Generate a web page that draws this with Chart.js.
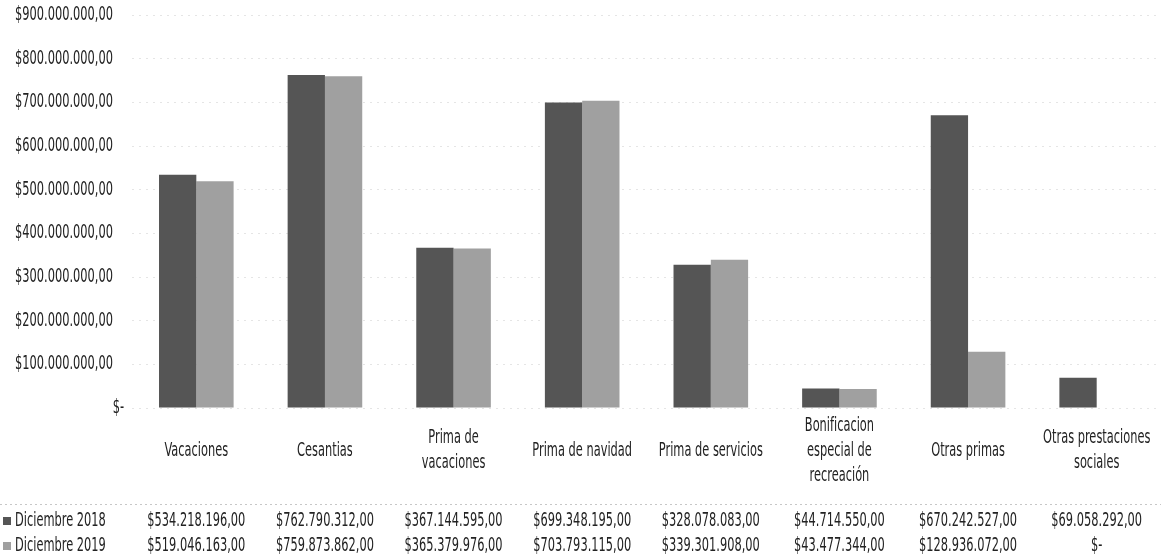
<!DOCTYPE html>
<html lang="es">
<head>
    <meta charset="UTF-8">
    <title>Prestaciones sociales 2018 - 2019</title>
    <script src="https://cdn.jsdelivr.net/npm/chart.js"></script>
    <style>
        html, body {
            margin: 0;
            padding: 0;
            background: #ffffff;
        }
        .chart-box {
            position: relative;
            width: 1161px;
            height: 558px;
        }
    </style>
</head>
<body>
    <div class="chart-box">
        <canvas id="prestacionesChart"></canvas>
    </div>

    <script>
        // datos
        const categorias = [
            'Vacaciones',
            'Cesantias',
            ['Prima de', 'vacaciones'],
            'Prima de navidad',
            'Prima de servicios',
            ['Bonificacion', 'especial de', 'recreación'],
            'Otras primas',
            ['Otras prestaciones', 'sociales']
        ];
        const series = ['Diciembre 2018', 'Diciembre 2019'];
        const dic2018 = [534218196, 762790312, 367144595, 699348195, 328078083, 44714550, 670242527, 69058292];
        const dic2019 = [519046163, 759873862, 365379976, 703793115, 339301908, 43477344, 128936072, 0];
        const yTicks = [0, 100000000, 200000000, 300000000, 400000000, 500000000, 600000000, 700000000, 800000000, 900000000];

        // letra alta y angosta como la del original
        const FONT = "19px 'DejaVu Sans', sans-serif";
        const ANCHO = 0.6;
        const colores = ['#555555', '#a0a0a0'];

        function pesos(v) {
            if (v === 0) return '$-';
            const entero = Math.round(v).toString().replace(/\B(?=(\d{3})+(?!\d))/g, '.');
            return '$' + entero + ',00';
        }

        function texto(ctx, t, x, y, align) {
            ctx.save();
            ctx.translate(x, y);
            ctx.scale(ANCHO, 1);
            ctx.textAlign = align;
            ctx.fillText(t, 0, 0);
            ctx.restore();
        }

        // etiquetas de ejes y tabla de datos (como en Excel)
        const textos = {
            id: 'textos',
            afterDraw(chart) {
                const ctx = chart.ctx;
                const x = chart.scales.x;
                const y = chart.scales.y;
                ctx.save();
                ctx.font = FONT;
                ctx.fillStyle = '#222';
                ctx.textBaseline = 'middle';

                // eje y
                yTicks.forEach(v => {
                    const px = v === 0 ? 124 : 113;
                    texto(ctx, pesos(v), px, y.getPixelForValue(v), 'right');
                });

                // categorias
                const lh = 25;
                categorias.forEach((c, i) => {
                    const lineas = Array.isArray(c) ? c : [c];
                    const y0 = 451 - (lineas.length - 1) * lh / 2;
                    lineas.forEach((l, k) => texto(ctx, l, x.getPixelForValue(i), y0 + k * lh, 'center'));
                });

                // linea punteada sobre la tabla
                ctx.strokeStyle = 'rgba(0,0,0,0.22)';
                ctx.setLineDash([2, 3]);
                ctx.lineWidth = 1;
                ctx.beginPath();
                ctx.moveTo(0, 504.5);
                ctx.lineTo(chart.width, 504.5);
                ctx.stroke();
                ctx.setLineDash([]);

                // filas de la tabla
                const filas = [dic2018, dic2019];
                const filaY = [521, 546];
                filas.forEach((fila, r) => {
                    const fy = filaY[r];
                    ctx.fillStyle = colores[r];
                    ctx.fillRect(3, fy - 4, 8, 8);
                    ctx.fillStyle = '#222';
                    texto(ctx, series[r], 15, fy, 'left');
                    fila.forEach((v, i) => texto(ctx, pesos(v), x.getPixelForValue(i), fy, 'center'));
                });
                ctx.restore();
            }
        };

        new Chart(document.getElementById('prestacionesChart'), {
            type: 'bar',
            data: {
                labels: categorias,
                datasets: [
                    {
                        label: series[0],
                        data: dic2018,
                        backgroundColor: colores[0],
                        barPercentage: 1,
                        categoryPercentage: 0.58
                    },
                    {
                        label: series[1],
                        data: dic2019,
                        backgroundColor: colores[1],
                        barPercentage: 1,
                        categoryPercentage: 0.58
                    }
                ]
            },
            options: {
                responsive: true,
                maintainAspectRatio: false,
                animation: false,
                layout: {
                    padding: { top: 15, right: 0, left: 0, bottom: 0 }
                },
                plugins: {
                    legend: { display: false },
                    tooltip: { enabled: false }
                },
                scales: {
                    x: {
                        afterFit: s => { s.height = 150; },
                        grid: { display: false },
                        border: { display: false },
                        ticks: { display: false }
                    },
                    y: {
                        min: 0,
                        max: 900000000,
                        afterFit: s => { s.width = 132; },
                        afterBuildTicks: s => { s.ticks = yTicks.map(v => ({ value: v })); },
                        grid: {
                            color: 'rgba(0,0,0,0.1)',
                            drawTicks: false
                        },
                        border: { display: false, dash: [2, 5] },
                        ticks: { display: false }
                    }
                }
            },
            plugins: [textos]
        });
    </script>
</body>
</html>
